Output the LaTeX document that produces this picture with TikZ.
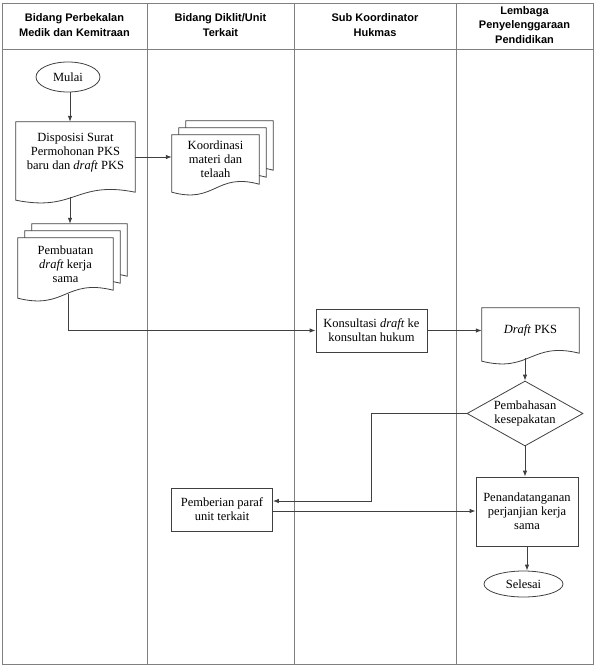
\documentclass[tikz,border=0pt]{standalone}
\usepackage{fontspec}
\setmainfont{Liberation Serif}
\newfontfamily\headfont{Liberation Sans}
\usetikzlibrary{shapes.geometric,arrows.meta,backgrounds,calc}

% document page with wavy bottom, #1 node, #2 offset of the page
\newcommand{\docshape}[2]{%
  \draw[shapeline, fill=white] ([shift={(#2,#2)}]#1.north west) -- ([shift={(#2,#2)}]#1.north east)
    -- ([shift={(#2,#2)}]#1.south east)
    .. controls ([shift={(#2,#2+12pt)}]#1.south) and ([shift={(#2,#2-20pt)}]#1.south)
    .. ([shift={(#2,#2-8pt)}]#1.south west) -- cycle;}

\begin{document}
\begin{tikzpicture}[x=1pt, y=-1pt, >={Latex[length=6pt,width=4.5pt]},
    every node/.style={font=\fontsize{12.5}{14}\selectfont, align=center, inner sep=2pt},
    lane/.style={draw=black!50, line width=0.7pt},
    head/.style={font=\headfont\bfseries\fontsize{11}{14.5}\selectfont},
    shapeline/.style={draw=black!75, line width=0.8pt},
    proc/.style={shapeline, rectangle},
    docnode/.style={rectangle},
    term/.style={shapeline, ellipse, inner sep=0pt},
    decision/.style={shapeline, diamond, aspect=1.8, inner sep=0pt},
    flow/.style={->, draw=black!75, line width=0.8pt}]
    \useasboundingbox (0,0) rectangle (595,670);

    % swimlanes
    \draw[lane] (2,3) rectangle (593,664);
    \draw[lane] (2,49) -- (593,49);
    \foreach \xl in {147,294,456} \draw[lane] (\xl,3) -- (\xl,664);
    \node[head] (lane1) at (74.5,25) {Bidang Perbekalan\\Medik dan Kemitraan};
    \node[head] (lane2) at (220.5,25) {Bidang Diklit/Unit\\Terkait};
    \node[head] (lane3) at (375,25) {Sub Koordinator\\Hukmas};
    \node[head] (lane4) at (524.5,25) {Lembaga\\Penyelenggaraan\\Pendidikan};

    % steps
    \node[term, minimum width=64, minimum height=30] (mulai) at (68,77) {Mulai};
    \node[docnode, minimum width=119, minimum height=70] (disp) at (75.5,157) {Disposisi Surat\\Permohonan PKS\\baru dan \textit{draft} PKS\\[-2pt]\mbox{}};
    \node[docnode, minimum width=87, minimum height=49] (koord) at (215.5,159.5) {Koordinasi\\materi dan\\telaah};
    \node[docnode, minimum width=95, minimum height=52] (pemb) at (65.5,264) {Pembuatan\\\textit{draft} kerja\\sama};
    \node[proc, minimum width=111, minimum height=43] (konsul) at (371.5,330.5) {Konsultasi \textit{draft} ke\\konsultan hukum};
    \node[docnode, minimum width=97, minimum height=45] (draftpks) at (530.5,330.5) {\textit{Draft} PKS};
    \node[decision, minimum width=116, minimum height=65] (bahas) at (525,413.5) {Pembahasan\\kesepakatan};
    \node[proc, minimum width=101, minimum height=43] (paraf) at (222,509.5) {Pemberian paraf\\unit terkait};
    \node[proc, minimum width=102, minimum height=69] (tanda) at (527,511.5) {Penandatanganan\\perjanjian kerja\\sama};
    \node[term, minimum width=79, minimum height=26] (selesai) at (523.5,584) {Selesai};

    \begin{pgfonlayer}{background}
        \docshape{disp}{0pt}
        \docshape{koord}{14pt}
        \docshape{koord}{7pt}
        \docshape{koord}{0pt}
        \docshape{pemb}{14pt}
        \docshape{pemb}{7pt}
        \docshape{pemb}{0pt}
        \docshape{draftpks}{0pt}
    \end{pgfonlayer}

    \coordinate (pembtop) at ([yshift=14pt]pemb.north);
    \coordinate (dispout) at ([xshift=-5.5pt,yshift=-5pt]disp.south);

    \draw[flow] (mulai.south -| dispout) -- (dispout |- disp.north);
    \draw[flow] (disp.east) -- (disp.east -| koord.west);
    \draw[flow] (dispout) -- (dispout |- pembtop);
    \draw[flow] ([xshift=2.5pt,yshift=-4pt]pemb.south) |- (konsul.west);
    \draw[flow] (konsul) -- (draftpks);
    \draw[flow] ($(draftpks.south -| bahas.north)+(0,5)$) -- (bahas.north);
    \draw[flow] (bahas.west) -- ++(-95,0) |- ([yshift=8.5pt]paraf.east);
    \draw[flow] (bahas.south) -- (bahas.south |- tanda.north);
    \draw[flow] ([yshift=-1.5pt]paraf.east) -- ([yshift=-1.5pt]paraf.east -| tanda.west);
    \draw[flow] (tanda.south) -- (tanda.south |- selesai.north);
\end{tikzpicture}
\end{document}
